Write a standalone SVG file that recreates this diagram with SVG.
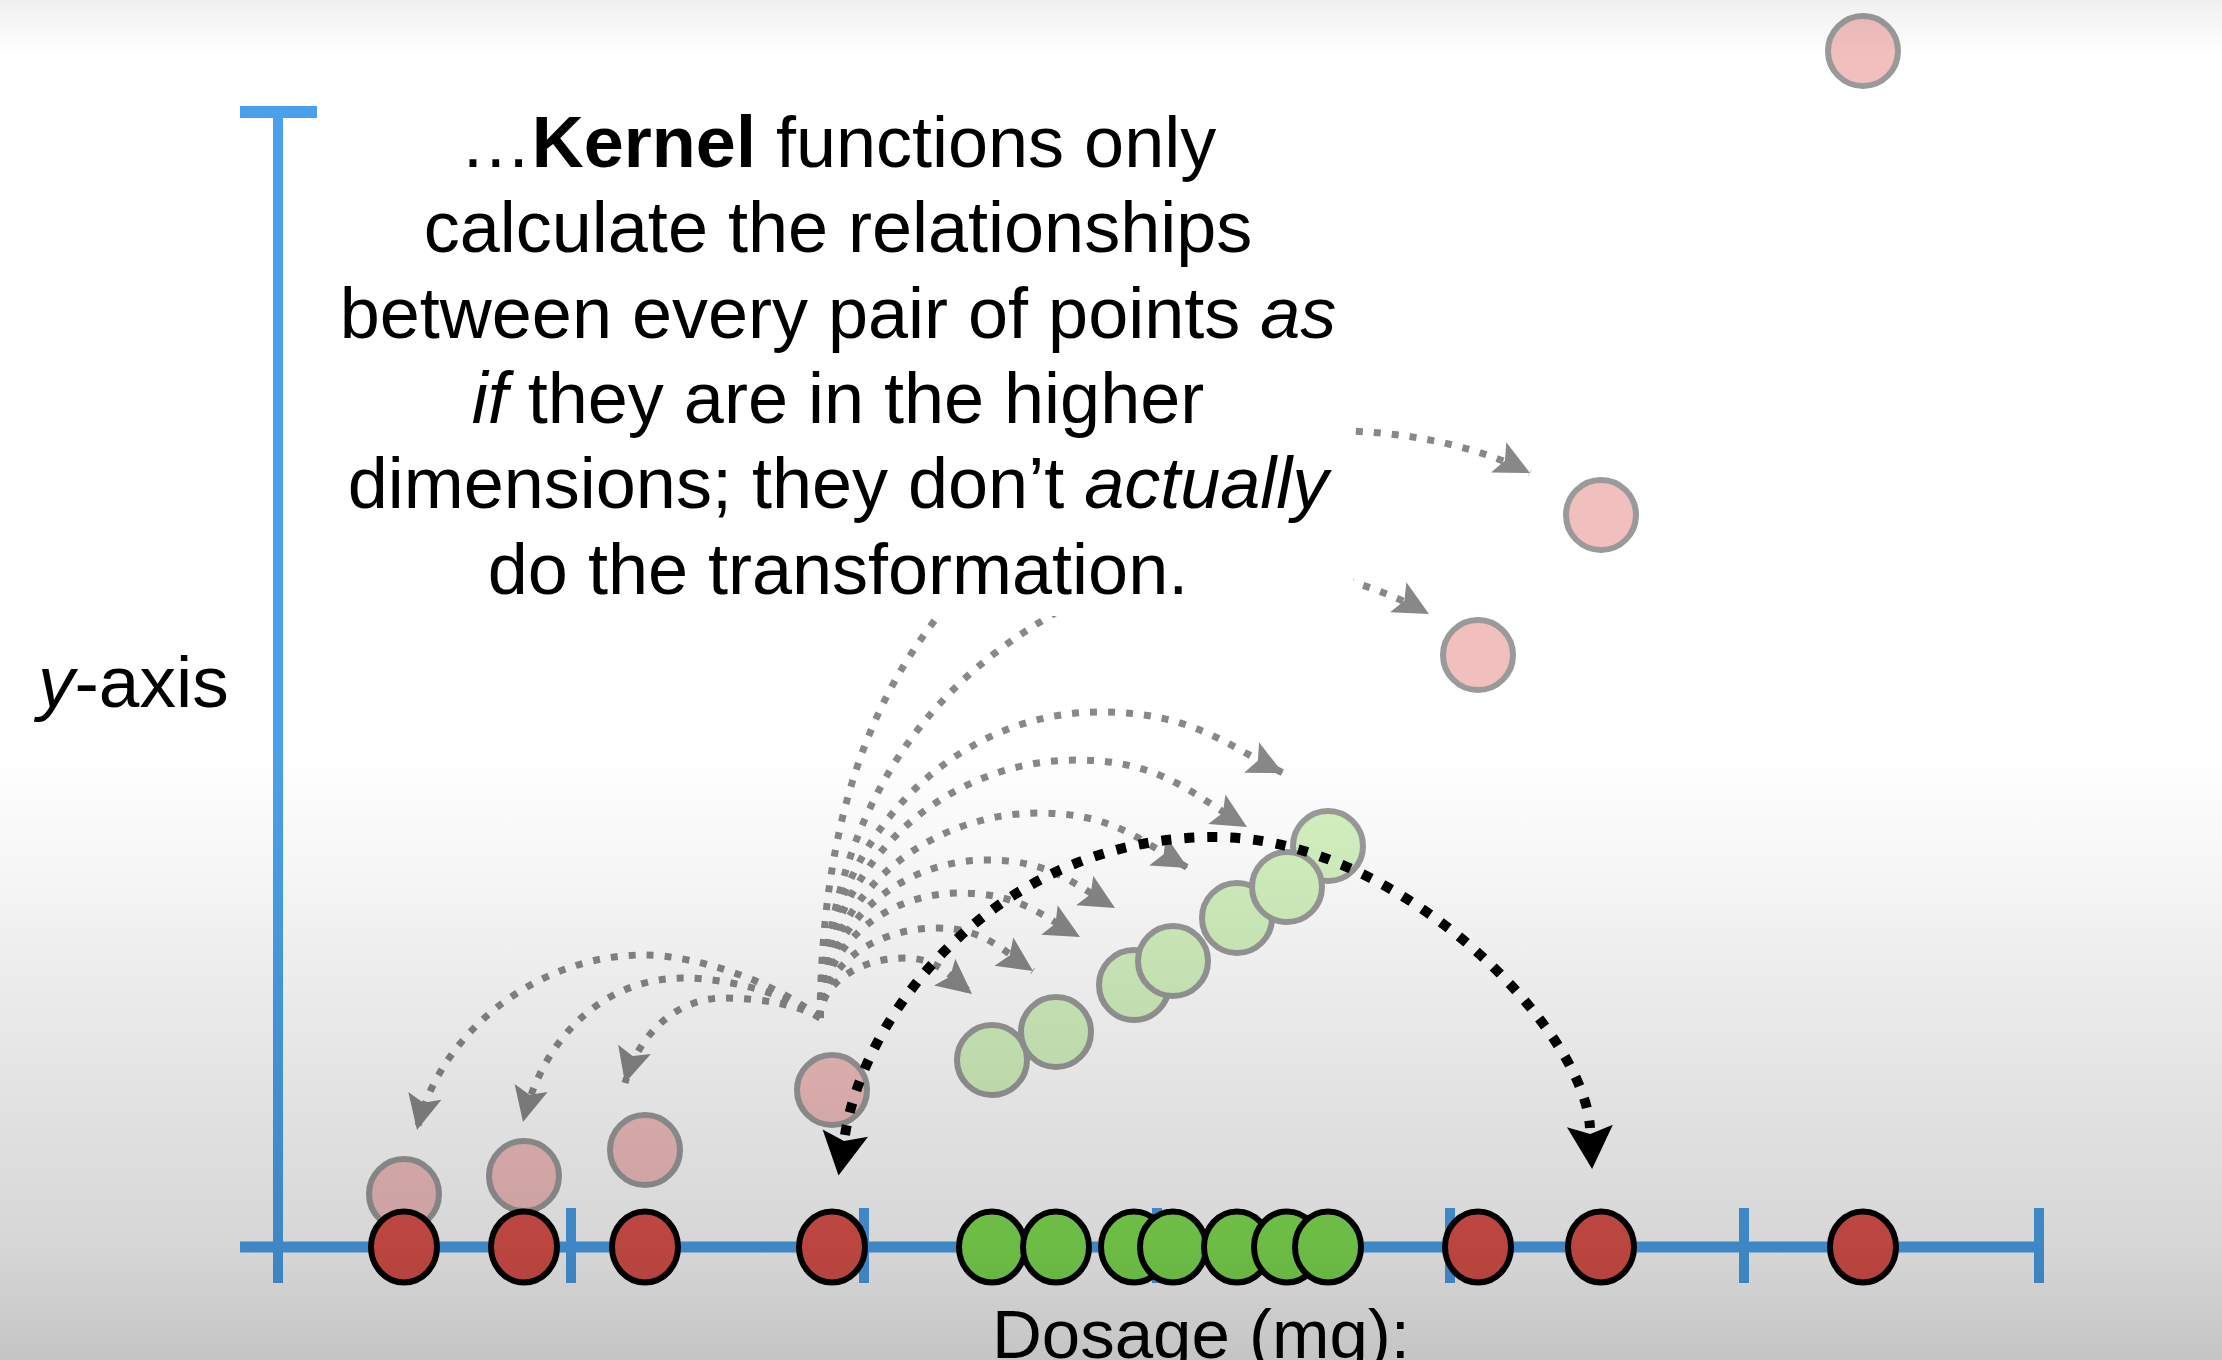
<svg xmlns="http://www.w3.org/2000/svg" width="2222" height="1360" viewBox="0 0 2222 1360">
<style>
.ax{stroke:#4aa0ea;stroke-width:10;fill:none}
.red{fill:#de524b;stroke:#000;stroke-width:6}
.grn{fill:#80df52;stroke:#000;stroke-width:6}
.pink{fill:#f2bfbf;stroke:#9a9a9a;stroke-width:6}
.lg{fill:#d4f2c0;stroke:#9a9a9a;stroke-width:6}
.gr{fill:none;stroke:#888;stroke-width:7;stroke-dasharray:7 11;marker-end:url(#ah-gray)}
.bk{fill:none;stroke:#000;stroke-width:10;stroke-dasharray:10 13;marker-start:url(#ah-black);marker-end:url(#ah-black)}
text{font-family:"Liberation Sans",Arial,Helvetica,sans-serif;fill:#000}
</style>
<defs>
<linearGradient id="shade" x1="0" y1="0" x2="0" y2="1360" gradientUnits="userSpaceOnUse">
<stop offset="0" stop-color="#000" stop-opacity="0.06"/>
<stop offset="0.04" stop-color="#000" stop-opacity="0"/>
<stop offset="0.55" stop-color="#000" stop-opacity="0"/>
<stop offset="0.625" stop-color="#000" stop-opacity="0.03"/>
<stop offset="0.73" stop-color="#000" stop-opacity="0.08"/>
<stop offset="0.917" stop-color="#000" stop-opacity="0.16"/>
<stop offset="1" stop-color="#000" stop-opacity="0.23"/>
</linearGradient>
<marker id="ah-gray" markerUnits="userSpaceOnUse" viewBox="-4 -20 44 40" markerWidth="44" markerHeight="40" refX="35" refY="0" orient="auto">
<path d="M0,-17 L35,0 L0,17 L7,0 Z" fill="#888"/>
</marker>
<marker id="ah-black" markerUnits="userSpaceOnUse" viewBox="-6 -25 52 50" markerWidth="52" markerHeight="50" refX="0" refY="0" orient="auto-start-reverse">
<path d="M-2,-23 L41,0 L-2,23 L6,0 Z" fill="#000"/>
</marker>
</defs>
<rect width="2222" height="1360" fill="#fff"/>
<g id="axes">
<line class="ax" x1="278" y1="112" x2="278" y2="1283"/>
<line class="ax" x1="240" y1="112" x2="317" y2="112" style="stroke-width:12"/>
<line class="ax" x1="240" y1="1247" x2="2039" y2="1247" style="stroke-width:11"/>
<line class="ax" x1="571" y1="1208" x2="571" y2="1283"/>
<line class="ax" x1="864" y1="1208" x2="864" y2="1283"/>
<line class="ax" x1="1157" y1="1208" x2="1157" y2="1283"/>
<line class="ax" x1="1450" y1="1208" x2="1450" y2="1283"/>
<line class="ax" x1="1744" y1="1208" x2="1744" y2="1283"/>
<line class="ax" x1="2039" y1="1208" x2="2039" y2="1283"/>
</g>
<g id="lifted-pink-low">
<g id="p1"><circle class="pink" cx="404" cy="1194" r="35"/></g>
<g id="p2"><circle class="pink" cx="524" cy="1176" r="35"/></g>
<g id="p3"><circle class="pink" cx="645" cy="1150" r="35"/></g>
<g id="p4"><circle class="pink" cx="832" cy="1090" r="35"/></g>
</g>
<g id="axis-points">
<g id="r1"><ellipse class="red" cx="404" cy="1247" rx="33" ry="35.5"/></g>
<g id="r2"><ellipse class="red" cx="524" cy="1247" rx="33" ry="35.5"/></g>
<g id="r3"><ellipse class="red" cx="645" cy="1247" rx="33" ry="35.5"/></g>
<g id="r4"><ellipse class="red" cx="832" cy="1247" rx="33" ry="35.5"/></g>
<g id="g1"><ellipse class="grn" cx="992" cy="1247" rx="33" ry="35.5"/></g>
<g id="g2"><ellipse class="grn" cx="1056" cy="1247" rx="33" ry="35.5"/></g>
<g id="g3"><ellipse class="grn" cx="1134" cy="1247" rx="33" ry="35.5"/></g>
<g id="g4"><ellipse class="grn" cx="1173" cy="1247" rx="33" ry="35.5"/></g>
<g id="g5"><ellipse class="grn" cx="1237" cy="1247" rx="33" ry="35.5"/></g>
<g id="g6"><ellipse class="grn" cx="1287" cy="1247" rx="33" ry="35.5"/></g>
<g id="g7"><ellipse class="grn" cx="1328" cy="1247" rx="33" ry="35.5"/></g>
<g id="r5"><ellipse class="red" cx="1478" cy="1247" rx="33" ry="35.5"/></g>
<g id="r6"><ellipse class="red" cx="1601" cy="1247" rx="33" ry="35.5"/></g>
<g id="r7"><ellipse class="red" cx="1863" cy="1247" rx="33" ry="35.5"/></g>
</g>
<g id="lifted-green">
<g id="lg1"><circle class="lg" cx="992" cy="1060" r="35"/></g>
<g id="lg2"><circle class="lg" cx="1056" cy="1032" r="35"/></g>
<g id="lg3"><circle class="lg" cx="1134" cy="985" r="35"/></g>
<g id="lg4"><circle class="lg" cx="1173" cy="961" r="35"/></g>
<g id="lg5"><circle class="lg" cx="1237" cy="918" r="35"/></g>
<g id="lg7"><circle class="lg" cx="1328" cy="846" r="35"/></g>
<g id="lg6"><circle class="lg" cx="1287" cy="887" r="35"/></g>
</g>
<g id="lifted-pink-high">
<g id="p5"><circle class="pink" cx="1478" cy="655" r="35"/></g>
<g id="p6"><circle class="pink" cx="1601" cy="515" r="35"/></g>
<g id="p7"><circle class="pink" cx="1863" cy="51" r="35"/></g>
</g>
<g id="connectors">
<path class="gr" d="M820,1018 C820,985 858,958 905,958 C938.5,958 952,978 972,994"/>
<path class="gr" d="M820,1018 C820,968.5 872.6,928 937,928 C985,928 1004,951.7 1033,971"/>
<path class="gr" d="M820,1018 C820,949 883,893 960,893 C1020,893 1044,917 1080,937"/>
<path class="gr" d="M820,1018 C820,931 895,860 987,860 C1051,860 1077,886 1115,908"/>
<path class="gr" d="M820,1018 C820,905 919,813 1040,813 C1114,813 1144,843 1188,868"/>
<path class="gr" d="M820,1018 C820,876 936,760 1077,760 C1162,760 1196,797 1247,827"/>
<path class="gr" d="M820,1018 C820,850 946,712 1100,712 C1192,712 1228,746 1283,773"/>
<path class="gr" d="M820,1018 C835,780 950,660 1100,590 C1200,545 1330,560 1429,614"/>
<path class="gr" d="M820,1018 C822,820 870,690 960,590 C1060,480 1230,425 1350,431 C1420,434 1480,448 1530,473"/>
<path class="gr" d="M820,1018 C780,985 700,955 643,955 C540,955 440,1030 417,1130"/>
<path class="gr" d="M820,1018 C790,995 730,978 683,978 C610,978 545,1030 523,1122"/>
<path class="gr" d="M820,1018 C800,1005 760,998 723,998 C680,998 640,1030 625,1083"/>
</g>
<g id="caption">
<rect x="318" y="118" width="1035" height="498" fill="#fff"/>
<text x="838" y="167" font-size="72" text-anchor="middle">…<tspan font-weight="bold">Kernel</tspan> functions only</text>
<text x="838" y="252" font-size="72" text-anchor="middle">calculate the relationships</text>
<text x="838" y="338" font-size="72" text-anchor="middle">between every pair of points <tspan font-style="italic">as</tspan></text>
<text x="838" y="423" font-size="72" text-anchor="middle"><tspan font-style="italic">if</tspan> they are in the higher</text>
<text x="838" y="508" font-size="72" text-anchor="middle">dimensions; they don’t <tspan font-style="italic">actually</tspan></text>
<text x="838" y="594" font-size="72" text-anchor="middle">do the transformation.</text>
</g>
<g id="connector-black">
<path class="bk" d="M845,1135 C865,1010 1000,837 1215,837 C1400,837 1585,1030 1590,1128"/>
</g>
<g id="labels">
<text x="38" y="707" font-size="73"><tspan font-style="italic">y</tspan>-axis</text>
<text x="992" y="1358" font-size="69">Dosage (mg):</text>
</g>
<rect width="2222" height="1360" fill="url(#shade)" pointer-events="none"/>
</svg>
